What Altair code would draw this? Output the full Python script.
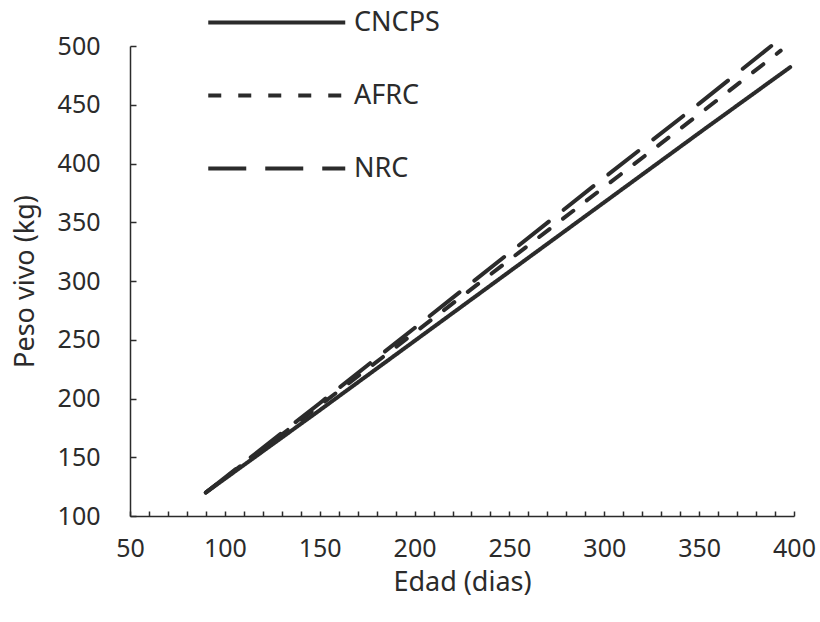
import altair as alt
import pandas as pd

series = ["CNCPS", "AFRC", "NRC"]

ages_cncps = [90, 150, 200, 250, 300, 350, 398]
peso_cncps = [120, 190, 249, 308, 367, 426, 482]

ages_afrc = [90, 150, 200, 250, 300, 350, 393]
peso_afrc = [120, 194, 256, 318, 380, 442, 496]

ages_nrc = [90, 150, 200, 250, 300, 350, 388]
peso_nrc = [120, 196, 260, 324, 388, 451, 500]

x_labels = [50, 100, 150, 200, 250, 300, 350, 400]
x_minor = list(range(50, 401, 10))
y_labels = [100, 150, 200, 250, 300, 350, 400, 450, 500]

rows = []
for name, ages, pesos in [("CNCPS", ages_cncps, peso_cncps),
                          ("AFRC", ages_afrc, peso_afrc),
                          ("NRC", ages_nrc, peso_nrc)]:
    for a, p in zip(ages, pesos):
        rows.append({"Modelo": name, "Edad": a, "Peso": p})
df = pd.DataFrame(rows)

W, H = 664, 470
LEFT, TOP = 130, 46
FONT = "Noto Sans"
INK = "#2b2b2b"
TICKFS = 25
TITLEFS = 27

xscale = alt.Scale(domain=[50, 400], nice=False, zero=False)
yscale = alt.Scale(domain=[100, 500], nice=False, zero=False)

lines = alt.Chart(df).mark_line(strokeWidth=4, strokeCap="round", color=INK).encode(
    x=alt.X("Edad:Q", scale=xscale,
            axis=alt.Axis(values=x_labels, ticks=False, grid=False, title="Edad (dias)",
                          labelFontSize=TICKFS, labelPadding=20, labelFont=FONT, labelColor=INK,
                          titleFontSize=TITLEFS, titleFont=FONT, titleColor=INK, titleFontWeight="normal",
                          titlePadding=8, domainColor=INK, domainWidth=1.5, labelFlush=False)),
    y=alt.Y("Peso:Q", scale=yscale,
            axis=alt.Axis(values=y_labels, ticks=False, grid=False, title="Peso vivo (kg)",
                          labelFontSize=TICKFS, labelPadding=30, labelFont=FONT, labelColor=INK,
                          titleFontSize=TITLEFS, titleFont=FONT, titleColor=INK, titleFontWeight="normal",
                          titlePadding=18, domainColor=INK, domainWidth=1.5)),
    strokeDash=alt.StrokeDash(
        "Modelo:N",
        scale=alt.Scale(domain=series, range=[[1, 0], [13, 17], [38, 19]]),
        sort=series,
        legend=alt.Legend(title=None, orient="none", legendX=76, legendY=-60,
                          symbolType="M-1,0H3", symbolSize=4692, symbolStrokeWidth=4,
                          symbolStrokeColor=INK, labelFontSize=TITLEFS, labelFont=FONT,
                          labelColor=INK, rowPadding=23, labelOffset=75)),
)

ticks_layer = alt.Chart(df).mark_line(opacity=0).encode(
    x=alt.X("Edad:Q", scale=xscale,
            axis=alt.Axis(orient="top", offset=-H, values=x_minor, labels=False, domain=False,
                          grid=False, title=None, tickSize=5, tickColor=INK, tickWidth=1.5)),
    y=alt.Y("Peso:Q", scale=yscale,
            axis=alt.Axis(orient="right", offset=-W, values=y_labels, labels=False, domain=False,
                          grid=False, title=None, tickSize=6, tickColor=INK, tickWidth=1.5)),
    detail="Modelo:N",
)

chart = alt.layer(lines, ticks_layer).resolve_axis(
    x="independent", y="independent"
).properties(
    width=W, height=H,
    autosize=alt.AutoSizeParams(type="none"),
    padding={"left": LEFT, "top": TOP, "right": 820 - LEFT - W, "bottom": 622 - TOP - H},
    background="white",
).configure_view(stroke=None)

chart.save("out.html", embed_options={"renderer": "svg", "actions": False})
